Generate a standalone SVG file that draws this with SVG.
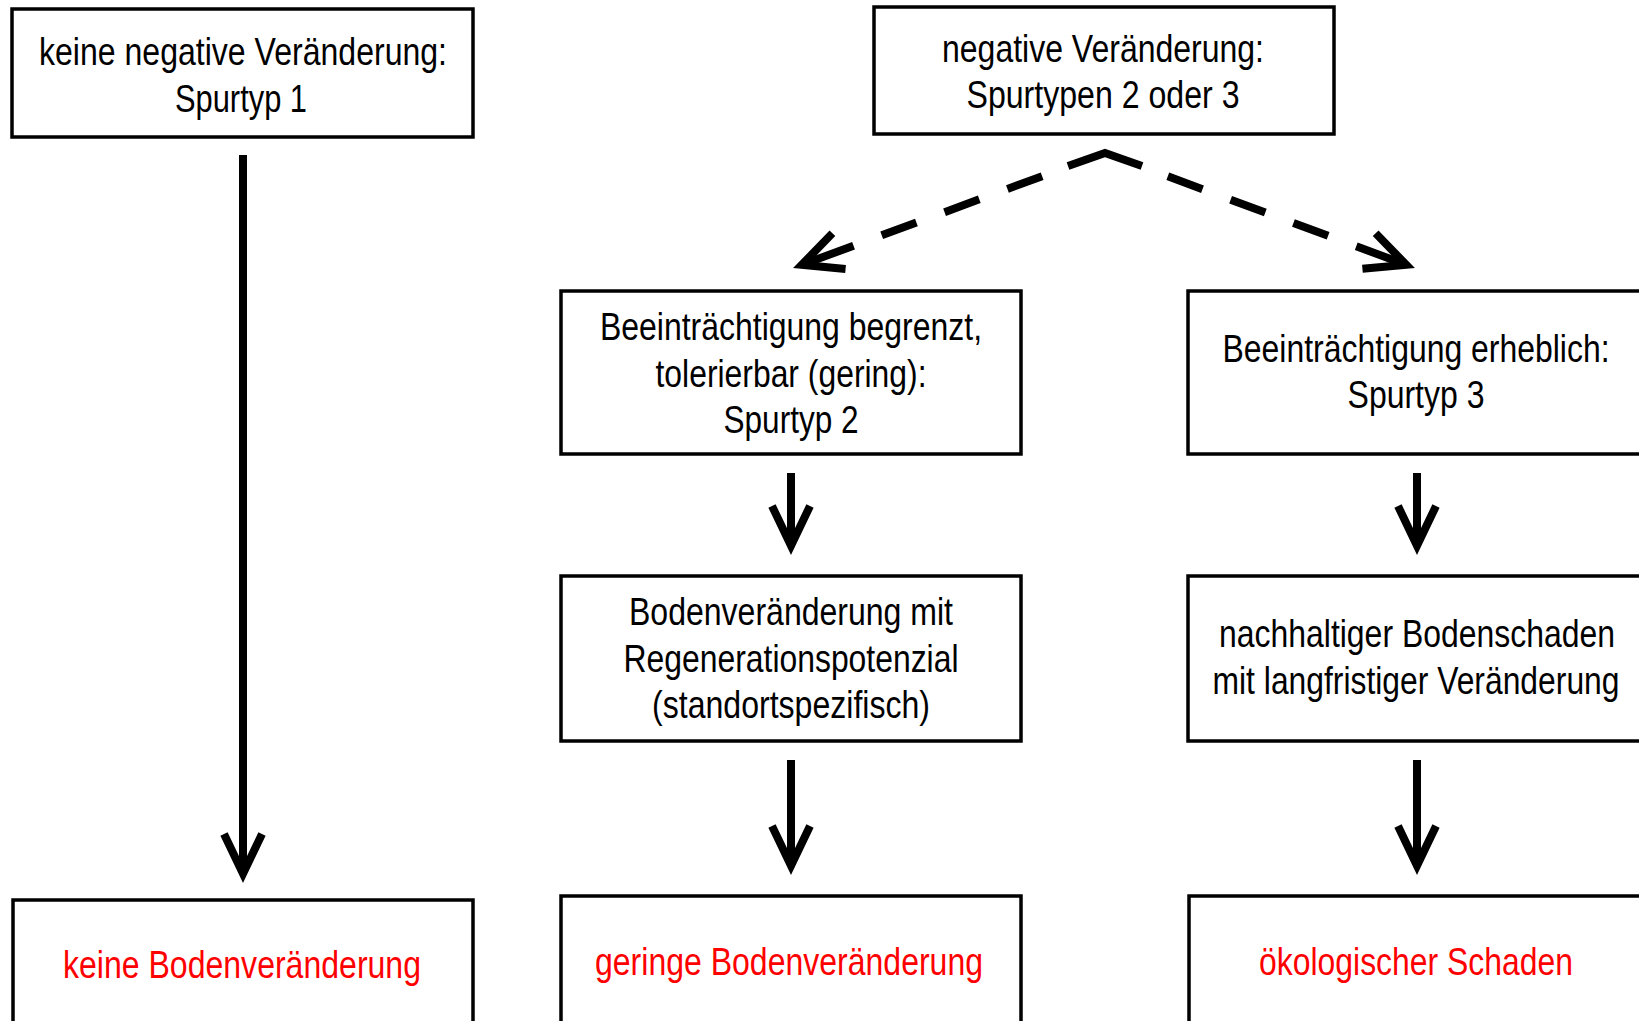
<svg xmlns="http://www.w3.org/2000/svg" width="1639" height="1021" viewBox="0 0 1639 1021">
<style>
.box{fill:#fff;stroke:#000;stroke-width:3.5;stroke-linejoin:miter}
.t{font-family:"Liberation Sans",Arial,sans-serif;font-size:39px;fill:#000;text-anchor:middle}
.r{fill:#ff0000}
.conn{stroke:#000;stroke-width:8;fill:none;stroke-linecap:butt}
</style>
<defs>
<marker id="chev" markerUnits="userSpaceOnUse" orient="auto" markerWidth="70" markerHeight="60" viewBox="-50 -30 70 60" refX="0" refY="0" overflow="visible">
<path d="M -39,-19 L 0.7,0 L -39,19" fill="none" stroke="#000" stroke-width="8" stroke-linejoin="miter" stroke-miterlimit="10"/>
</marker>
</defs>
<rect width="1639" height="1021" fill="#fff"/>

<g id="connectors">
<line class="conn" x1="243" y1="155" x2="243" y2="873" marker-end="url(#chev)"/>
<line class="conn" x1="791" y1="473" x2="791" y2="545" marker-end="url(#chev)"/>
<line class="conn" x1="791" y1="760" x2="791" y2="865" marker-end="url(#chev)"/>
<line class="conn" x1="1417" y1="473" x2="1417" y2="545" marker-end="url(#chev)"/>
<line class="conn" x1="1417" y1="760" x2="1417" y2="865" marker-end="url(#chev)"/>
<path class="conn" d="M 1068,166 L 1105,153 L 1142,166" stroke-linejoin="miter"/>
<path class="conn" d="M 1105,153 L 802.4,264.6" stroke-dasharray="0 67 37 30 37 30 37 30 200" marker-end="url(#chev)"/>
<path class="conn" d="M 1105,153 L 1405.6,264.6" stroke-dasharray="0 67 37 30 37 30 37 30 200" marker-end="url(#chev)"/>
</g>

<g id="node-spurtyp1">
<rect class="box" x="12" y="9" width="461" height="128"/>
<text class="t" transform="translate(243,65) scale(0.82,1)" textLength="497.6" lengthAdjust="spacingAndGlyphs">keine negative Veränderung:</text>
<text class="t" transform="translate(241,112) scale(0.82,1)" textLength="161" lengthAdjust="spacingAndGlyphs">Spurtyp 1</text>
</g>

<g id="node-spurtyp23">
<rect class="box" x="874" y="7" width="460" height="127"/>
<text class="t" transform="translate(1103,62) scale(0.82,1)" textLength="392.7" lengthAdjust="spacingAndGlyphs">negative Veränderung:</text>
<text class="t" transform="translate(1103,108) scale(0.82,1)" textLength="332.9" lengthAdjust="spacingAndGlyphs">Spurtypen 2 oder 3</text>
</g>

<g id="node-spurtyp2">
<rect class="box" x="561" y="291" width="460" height="163"/>
<text class="t" transform="translate(791,340) scale(0.82,1)" textLength="465.9" lengthAdjust="spacingAndGlyphs">Beeinträchtigung begrenzt,</text>
<text class="t" transform="translate(791,387) scale(0.82,1)" textLength="330.5" lengthAdjust="spacingAndGlyphs">tolerierbar (gering):</text>
<text class="t" transform="translate(791,433) scale(0.82,1)" textLength="164.6" lengthAdjust="spacingAndGlyphs">Spurtyp 2</text>
</g>

<g id="node-spurtyp3">
<path class="box" d="M 1639,291 H 1188 V 454 H 1639"/>
<text class="t" transform="translate(1416,362) scale(0.82,1)" textLength="472" lengthAdjust="spacingAndGlyphs">Beeinträchtigung erheblich:</text>
<text class="t" transform="translate(1416,408) scale(0.82,1)" textLength="167" lengthAdjust="spacingAndGlyphs">Spurtyp 3</text>
</g>

<g id="node-regeneration">
<rect class="box" x="561" y="576" width="460" height="165"/>
<text class="t" transform="translate(791,625) scale(0.82,1)" textLength="395.1" lengthAdjust="spacingAndGlyphs">Bodenveränderung mit</text>
<text class="t" transform="translate(791,672) scale(0.82,1)" textLength="408.5" lengthAdjust="spacingAndGlyphs">Regenerationspotenzial</text>
<text class="t" transform="translate(791,718) scale(0.82,1)" textLength="339" lengthAdjust="spacingAndGlyphs">(standortspezifisch)</text>
</g>

<g id="node-bodenschaden">
<path class="box" d="M 1639,576 H 1188 V 741 H 1639"/>
<text class="t" transform="translate(1417,647) scale(0.82,1)" textLength="482.9" lengthAdjust="spacingAndGlyphs">nachhaltiger Bodenschaden</text>
<text class="t" transform="translate(1416,694) scale(0.82,1)" textLength="496.3" lengthAdjust="spacingAndGlyphs">mit langfristiger Veränderung</text>
</g>

<g id="node-keine-boden">
<path class="box" d="M 13,1021 V 900 H 473 V 1021"/>
<text class="t r" transform="translate(242,978) scale(0.82,1)" textLength="436.6" lengthAdjust="spacingAndGlyphs">keine Bodenveränderung</text>
</g>

<g id="node-geringe-boden">
<path class="box" d="M 561,1021 V 896 H 1021 V 1021"/>
<text class="t r" transform="translate(789,975) scale(0.82,1)" textLength="473.2" lengthAdjust="spacingAndGlyphs">geringe Bodenveränderung</text>
</g>

<g id="node-oekologisch">
<path class="box" d="M 1189,1021 V 896 H 1639"/>
<text class="t r" transform="translate(1416,975) scale(0.82,1)" textLength="382.9" lengthAdjust="spacingAndGlyphs">ökologischer Schaden</text>
</g>
</svg>
